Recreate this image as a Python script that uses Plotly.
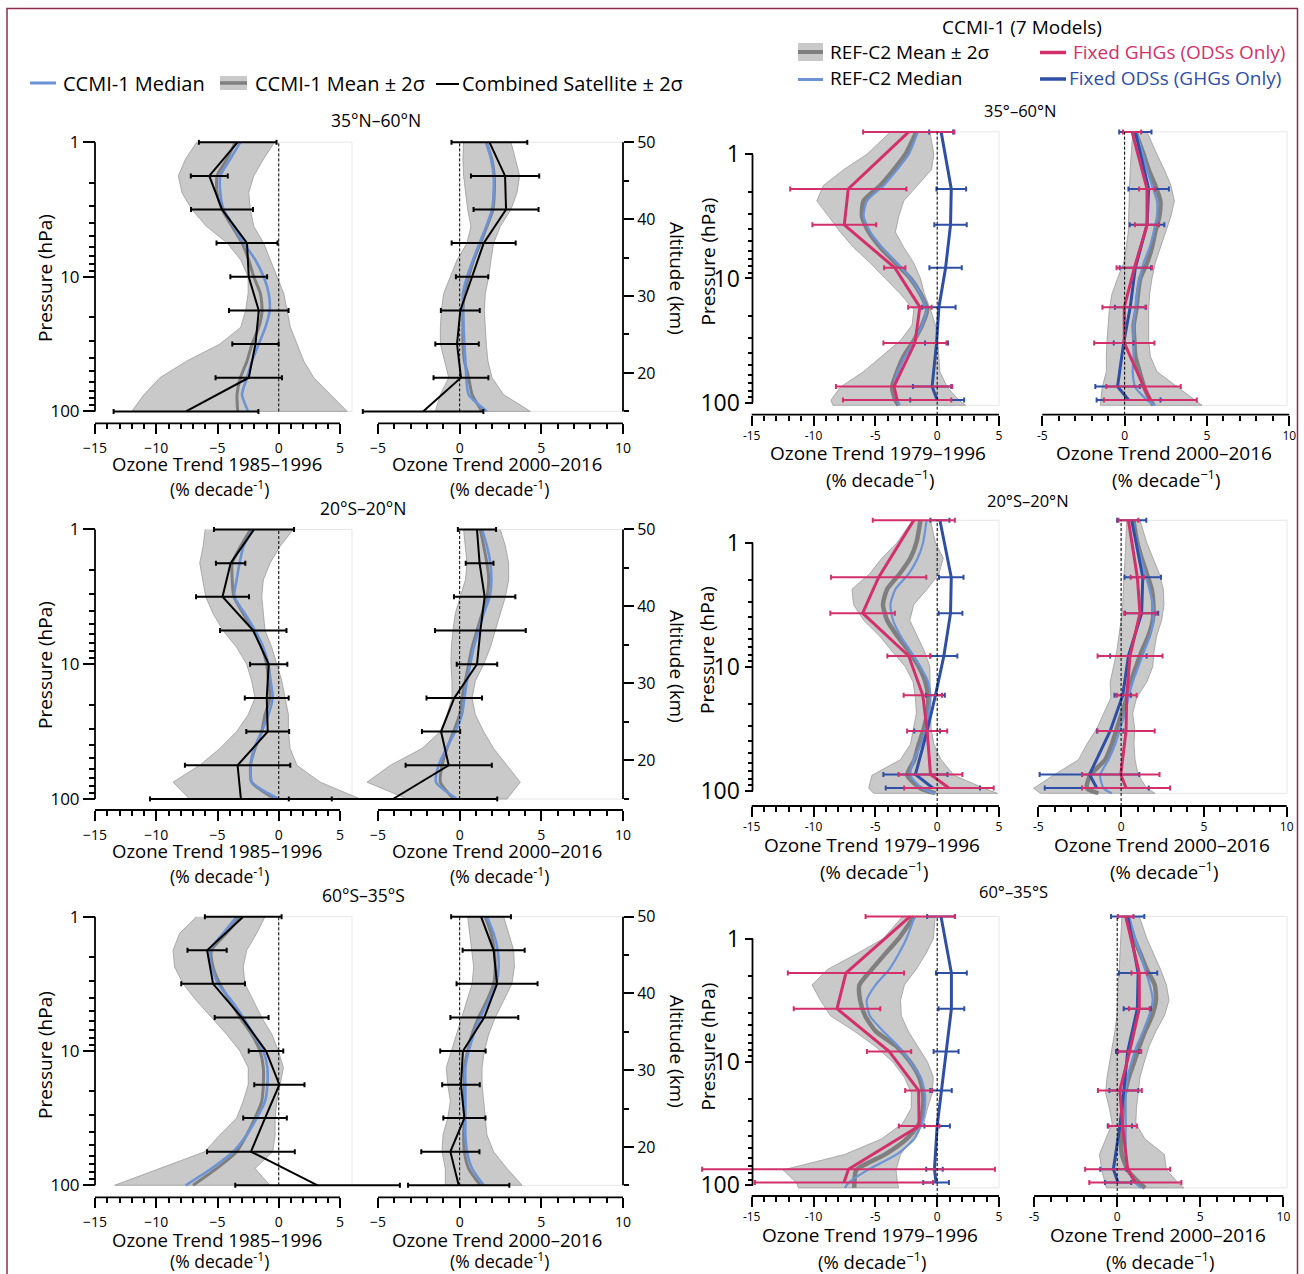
import math
import plotly.graph_objects as go

W, H = 1304, 1274
FONT = "Open Sans"

# ---------------- pressure levels (hPa) ----------------
SAT_P = [1.0, 1.78, 3.16, 5.62, 10.0, 17.8, 31.6, 56.2, 100.0]
MOD_P = [1.0, 1.33, 1.78, 2.37, 3.16, 4.22, 5.62, 7.5, 10.0, 13.3, 17.8, 23.7, 31.6, 42.2, 56.2, 75.0, 100.0]
CCMI_P = [0.66, 1.9, 3.7, 8.2, 17.0, 33.0, 74.0, 95.0]
CCMI_FINE_P = [0.66, 1.0, 1.33, 1.78, 2.37, 3.16, 4.22, 5.62, 7.5, 10.0, 13.3, 17.8, 23.7, 31.6, 42.2, 56.2, 75.0, 95.5, 105.0]

# ---------------- tick labels / categories ----------------
EARLY_TICKS = [-15, -10, -5, 0, 5]
LATE_TICKS = [-5, 0, 5, 10]
LEFT_EARLY_LABELS = ['−15', '−10', '−5', '0', '5']
LEFT_LATE_LABELS = ['−5', '0', '5', '10']
RIGHT_EARLY_LABELS = ['-15', '-10', '-5', '0', '5']
RIGHT_LATE_LABELS = ['-5', '0', '5', '10']
EARLY_MINOR = list(range(-15, 6))
LATE_MINOR = list(range(-5, 11))
P_TICKS = [1, 10, 100]
P_LABELS = ['1', '10', '100']
P_MINOR = [2, 3, 4, 5, 6, 7, 8, 9, 20, 30, 40, 50, 60, 70, 80, 90]
ALT_TICKS = [20, 30, 40, 50]
ALT_LABELS = ['20', '30', '40', '50']
ALT_MINOR = [15, 25, 35, 45]
REGIONS_LEFT = ['35°N–60°N', '20°S–20°N', '60°S–35°S']
REGIONS_RIGHT = ['35°–60°N', '20°S–20°N', '60°–35°S']

# ================= Left: Combined satellite vs CCMI-1 =================
# 35N-60N, 1985-1996
nh_8596_sat = [-3.35, -5.67, -4.63, -2.59, -2.45, -1.63, -1.9, -2.45, -7.57]
nh_8596_err = [3.17, 1.51, 2.53, 2.49, 1.50, 2.43, 1.89, 2.71, 5.91]
nh_8596_lo = [-6.7, -7.6, -8.2, -7.9, -7.1, -5.9, -4.2, -3.1, -2.5, -2.5, -2.7, -3.1, -4.8, -7.5, -9.7, -11.0, -12.0]
nh_8596_hi = [-0.35, -1.23, -2.04, -2.45, -2.32, -2.04, -1.23, -0.68, -0.14, 0.41, 0.68, 0.95, 1.5, 2.04, 2.86, 4.22, 5.59]
nh_8596_mean = [-3.54, -4.22, -5.04, -5.04, -4.63, -3.81, -3.0, -2.45, -2.04, -1.5, -1.36, -1.63, -2.18, -2.59, -3.13, -3.41, -3.35]
nh_8596_median = [-3.13, -3.95, -4.77, -4.77, -4.5, -3.68, -2.86, -1.91, -1.23, -0.82, -0.74, -1.09, -1.63, -2.18, -2.59, -3.0, -2.5]
# 35N-60N, 2000-2016
nh_0016_sat = [1.82, 2.78, 2.84, 1.47, 0.76, 0.04, -0.16, 0.08, -2.24]
nh_0016_err = [2.32, 2.09, 1.99, 1.96, 0.99, 1.19, 1.33, 1.68, 3.69]
nh_0016_lo = [0.24, 0.2, 0.24, 0.35, 0.49, 0.69, 0.45, -0.16, -0.57, -0.98, -1.12, -1.18, -1.18, -0.94, -0.67, -1.18, -1.49]
nh_0016_hi = [3.14, 3.41, 3.67, 3.51, 3.14, 2.49, 2.08, 1.92, 1.78, 1.57, 1.51, 1.57, 1.63, 1.73, 1.98, 2.69, 4.33]
nh_0016_mean = [1.63, 1.96, 2.12, 2.12, 2.04, 1.67, 1.27, 0.86, 0.55, 0.29, 0.2, 0.2, 0.2, 0.29, 0.55, 0.76, 1.37]
nh_0016_median = [1.63, 1.92, 2.08, 2.08, 1.98, 1.63, 1.22, 0.82, 0.45, 0.2, 0.2, 0.24, 0.29, 0.35, 0.41, 0.55, 1.67]
# 20S-20N, 1985-1996
tr_8596_sat = [-2.02, -3.93, -4.59, -2.08, -0.82, -0.98, -0.9, -3.36, -3.09]
tr_8596_err = [3.27, 1.2, 2.16, 2.71, 1.52, 1.79, 1.75, 4.3, 7.42]
tr_8596_lo = [-6.01, -6.17, -6.45, -6.23, -5.96, -5.36, -4.54, -3.44, -2.62, -2.21, -1.94, -2.49, -3.44, -4.81, -6.45, -8.63, -7.27]
tr_8596_hi = [1.2, 0.11, -0.71, -1.26, -1.39, -1.26, -1.12, -0.57, -0.16, 0.25, 0.52, 0.79, 0.79, 0.93, 1.48, 3.39, 6.67]
tr_8596_mean = [-2.3, -3.11, -3.8, -3.8, -3.66, -2.9, -2.08, -1.39, -0.98, -0.85, -0.71, -1.12, -1.39, -1.94, -2.3, -2.21, -0.3]
tr_8596_median = [-2.08, -2.87, -3.2, -3.44, -3.63, -2.76, -1.94, -1.26, -0.85, -0.66, -0.49, -0.85, -1.39, -2.02, -2.3, -2.21, 0.0]
# 20S-20N, 2000-2016
tr_0016_sat = [1.06, 1.22, 1.53, 1.27, 1.06, -0.33, -1.14, -0.67, -4.08]
tr_0016_err = [1.17, 0.85, 1.88, 2.78, 1.24, 1.7, 1.17, 2.64, 6.38]
tr_0016_lo = [0.24, 0.35, 0.45, 0.35, 0.04, -0.27, -0.41, -0.51, -0.53, -0.47, -0.47, -0.78, -1.18, -2.31, -4.24, -5.67, -3.2]
tr_0016_hi = [2.49, 2.8, 3.0, 3.0, 2.8, 2.49, 2.18, 1.88, 1.47, 0.96, 0.76, 0.96, 1.47, 2.08, 2.9, 3.71, 2.9]
tr_0016_mean = [1.27, 1.47, 1.67, 1.78, 1.67, 1.37, 1.06, 0.76, 0.55, 0.35, 0.14, 0.0, -0.37, -0.78, -1.08, -1.18, -0.37]
tr_0016_median = [1.37, 1.67, 1.88, 1.94, 1.84, 1.47, 1.16, 0.86, 0.65, 0.45, 0.29, 0.14, -0.27, -0.82, -1.29, -1.45, -0.16]
# 60S-35S, 1985-1996
sh_8596_sat = [-2.9, -5.85, -5.36, -3.03, -1.04, 0.05, -1.12, -2.27, 3.17]
sh_8596_err = [3.13, 1.6, 2.6, 2.2, 1.41, 2.05, 1.78, 3.58, 6.72]
sh_8596_lo = [-6.72, -8.09, -8.63, -8.5, -7.81, -6.72, -5.49, -4.26, -3.17, -2.49, -2.49, -2.9, -3.44, -4.81, -6.04, -9.73, -13.4]
sh_8596_hi = [-1.12, -1.8, -2.62, -2.9, -2.76, -2.08, -1.39, -0.57, -0.03, 0.38, 0.11, -0.16, -0.3, -0.3, -0.49, -1.94, -0.71]
sh_8596_mean = [-3.16, -4.26, -5.49, -5.36, -4.81, -3.99, -3.17, -2.21, -1.53, -1.26, -1.26, -1.39, -1.94, -2.62, -3.44, -5.08, -7.0]
sh_8596_median = [-3.44, -4.54, -5.63, -5.49, -4.95, -3.85, -2.9, -2.08, -1.26, -0.93, -0.93, -1.12, -1.8, -2.62, -3.72, -5.49, -7.6]
# 60S-35S, 2000-2016
sh_0016_sat = [1.31, 2.08, 2.29, 1.51, 0.2, 0.08, 0.29, -0.57, -0.06]
sh_0016_err = [1.83, 1.9, 2.48, 2.08, 1.39, 1.15, 1.29, 1.78, 3.1]
sh_0016_lo = [0.49, 0.61, 0.76, 0.86, 0.76, 0.45, 0.14, -0.16, -0.47, -0.82, -0.73, -0.57, -0.73, -1.02, -1.08, -0.88, -0.88]
sh_0016_hi = [2.69, 3.0, 3.31, 3.35, 3.2, 2.69, 2.18, 1.78, 1.51, 1.37, 1.37, 1.51, 1.57, 1.67, 2.08, 2.9, 3.82]
sh_0016_mean = [1.57, 1.92, 2.12, 2.18, 2.08, 1.67, 1.16, 0.76, 0.49, 0.29, 0.29, 0.29, 0.29, 0.24, 0.29, 0.55, 1.27]
sh_0016_median = [1.67, 2.08, 2.33, 2.39, 2.24, 1.78, 1.27, 0.86, 0.55, 0.35, 0.35, 0.35, 0.35, 0.35, 0.45, 0.76, 1.47]

# ================= Right: CCMI-1 (7 models) sensitivity runs =================
# 35-60N, 1979-1996
c_nh_7996_ghg = [-2.3, -7.19, -7.51, -3.43, -1.4, -1.8, -3.49, -3.24]
c_nh_7996_ghg_err = [3.69, 4.7, 2.58, 0.86, 0.95, 2.55, 4.7, 4.38]
c_nh_7996_ods = [0.32, 1.14, 1.08, 0.68, 0.14, -0.05, -0.41, 0.0]
c_nh_7996_ods_err = [0.97, 1.2, 1.31, 1.31, 1.35, 0.93, 1.55, 2.18]
c_nh_7996_lo = [-3.78, -5.68, -7.57, -9.19, -9.73, -8.78, -7.84, -6.76, -5.41, -4.19, -2.97, -1.89, -2.03, -2.97, -4.46, -5.95, -7.84, -8.59, -8.43]
c_nh_7996_hi = [-0.59, -0.27, -0.46, -1.62, -2.7, -3.11, -3.38, -2.7, -1.89, -1.35, -1.03, -0.54, -0.14, 0.05, 0.14, 0.22, 0.81, 1.76, 2.3]
c_nh_7996_mean = [-1.68, -2.57, -3.51, -4.59, -5.95, -6.08, -5.54, -4.59, -3.38, -2.16, -1.35, -0.81, -1.22, -1.89, -2.7, -3.24, -3.65, -3.38, -3.11]
c_nh_7996_median = [-1.57, -2.3, -3.24, -4.32, -5.68, -5.95, -5.41, -4.46, -3.24, -2.16, -1.35, -0.86, -1.22, -1.84, -2.57, -3.19, -3.51, -3.24, -3.03]
# 35-60N, 2000-2016
c_nh_0016_ghg = [0.45, 1.36, 1.36, 0.59, -0.02, -0.02, 1.15, 1.56]
c_nh_0016_ghg_err = [0.55, 0.48, 0.73, 1.08, 1.33, 1.83, 2.26, 2.82]
c_nh_0016_ods = [0.65, 1.46, 1.36, 0.65, 0.34, -0.06, -0.43, 0.24]
c_nh_0016_ods_err = [0.98, 1.23, 1.05, 0.95, 0.93, 0.6, 1.35, 1.94]
c_nh_0016_lo = [0.49, 0.38, 0.34, 0.3, 0.28, 0.26, 0.22, 0.1, -0.06, -0.43, -0.77, -0.93, -1.01, -1.07, -1.11, -1.11, -1.36, -1.42, -1.48]
c_nh_0016_hi = [1.36, 1.96, 2.41, 2.81, 3.02, 2.81, 2.47, 2.17, 1.86, 1.66, 1.52, 1.46, 1.46, 1.46, 1.56, 1.96, 3.18, 4.29, 4.7]
c_nh_0016_mean = [0.65, 1.15, 1.46, 1.86, 2.17, 2.11, 1.86, 1.66, 1.36, 0.95, 0.81, 0.71, 0.55, 0.59, 0.65, 0.91, 1.19, 1.56, 1.76]
c_nh_0016_median = [0.71, 1.11, 1.36, 1.66, 1.96, 1.96, 1.76, 1.52, 1.15, 0.91, 0.75, 0.65, 0.55, 0.55, 0.55, 0.49, 0.65, 1.36, 1.86]
# 20S-20N, 1979-1996
c_tr_7996_ghg = [-1.89, -4.73, -6.03, -2.3, -1.16, -0.81, -0.54, 0.95]
c_tr_7996_ghg_err = [3.32, 3.85, 2.61, 1.73, 1.55, 1.62, 2.58, 3.62]
c_tr_7996_ods = [0.22, 1.14, 1.08, 0.54, -0.14, -0.81, -1.76, -0.35]
c_tr_7996_ods_err = [0.77, 0.99, 0.96, 1.09, 0.76, 1.04, 2.59, 3.81]
c_tr_7996_lo = [-2.0, -3.24, -4.46, -5.46, -6.89, -6.76, -5.95, -4.68, -3.65, -2.57, -1.95, -1.76, -1.68, -1.89, -2.16, -2.97, -5.27, -5.54, -5.14]
c_tr_7996_hi = [-0.54, -0.14, 0.49, 0.14, -0.81, -1.89, -2.22, -1.62, -1.03, -0.59, -0.54, -0.54, -0.54, -0.49, -0.27, 0.32, 1.35, 3.78, 4.86]
c_tr_7996_mean = [-1.35, -1.68, -2.16, -3.03, -4.05, -4.38, -4.05, -3.24, -2.3, -1.49, -0.95, -0.73, -0.81, -1.08, -1.49, -1.84, -2.43, -1.35, -0.14]
c_tr_7996_median = [-0.86, -1.14, -1.57, -2.3, -3.38, -3.78, -3.57, -2.97, -2.16, -1.35, -0.73, -0.54, -0.68, -0.95, -1.3, -1.89, -2.16, -1.22, -0.14]
# 20S-20N, 2000-2016
c_tr_0016_ghg = [0.44, 0.98, 1.14, 0.54, 0.34, 0.3, -0.02, 0.3]
c_tr_0016_ghg_err = [0.6, 0.4, 0.95, 1.96, 0.6, 1.73, 2.34, 2.66]
c_tr_0016_ods = [0.64, 1.31, 1.24, 0.44, 0.1, -0.66, -1.91, -1.47]
c_tr_0016_ods_err = [0.88, 1.1, 1.0, 1.1, 0.5, 0.8, 3.01, 3.14]
c_tr_0016_lo = [0.34, 0.3, 0.24, 0.18, 0.14, 0.1, 0.0, -0.12, -0.26, -0.46, -0.66, -0.62, -1.02, -1.47, -2.07, -2.57, -4.08, -5.28, -4.88]
c_tr_0016_hi = [1.14, 1.55, 1.95, 2.31, 2.55, 2.59, 2.45, 2.15, 1.99, 1.91, 1.55, 0.94, 0.7, 0.82, 0.78, 0.84, 1.04, 1.55, 2.05]
c_tr_0016_mean = [0.74, 0.98, 1.24, 1.55, 1.85, 1.95, 1.91, 1.65, 1.24, 0.9, 0.58, 0.34, 0.04, -0.26, -0.56, -0.96, -1.87, -2.07, -1.37]
c_tr_0016_median = [0.7, 0.94, 1.18, 1.45, 1.71, 1.91, 1.95, 1.75, 1.39, 1.04, 0.7, 0.44, 0.24, -0.06, -0.36, -0.76, -1.27, -1.06, -0.56]
# 60-35S, 1979-1996
c_sh_7996_ghg = [-2.18, -7.38, -8.1, -3.89, -1.5, -1.46, -7.17, -7.54]
c_sh_7996_ghg_err = [3.61, 4.7, 3.5, 1.79, 1.09, 1.64, 11.84, 7.2]
c_sh_7996_ods = [0.31, 1.15, 1.15, 0.72, 0.31, 0.0, -0.22, -0.09]
c_sh_7996_ods_err = [1.12, 1.25, 1.04, 1.01, 0.87, 1.03, 0.67, 1.04]
c_sh_7996_lo = [-2.8, -4.36, -6.54, -8.88, -10.12, -9.44, -8.63, -6.7, -4.98, -3.58, -2.65, -2.09, -2.09, -2.8, -4.52, -7.48, -12.46, -11.37, -11.21]
c_sh_7996_hi = [-0.16, -0.31, -0.93, -1.71, -2.65, -2.96, -2.9, -2.34, -1.56, -0.78, -0.31, -0.4, -0.78, -1.09, -2.02, -2.96, -3.33, -3.21, -3.12]
c_sh_7996_mean = [-1.87, -3.12, -4.21, -5.3, -6.29, -6.23, -5.83, -4.98, -3.27, -2.18, -1.46, -1.15, -1.15, -1.46, -2.49, -4.21, -6.54, -6.7, -6.7]
c_sh_7996_median = [-1.81, -2.49, -3.12, -3.89, -4.98, -5.7, -5.45, -4.36, -3.12, -2.18, -1.34, -1.0, -1.0, -1.25, -1.87, -3.27, -5.61, -7.17, -7.48]
# 60-35S, 2000-2016
c_sh_0016_ghg = [0.51, 1.33, 1.33, 0.75, 0.16, 0.33, 0.63, 1.09]
c_sh_0016_ghg_err = [0.47, 0.47, 0.62, 0.7, 1.32, 0.85, 2.56, 2.77]
c_sh_0016_ods = [0.63, 1.26, 1.21, 0.63, 0.4, 0.16, -0.23, 0.05]
c_sh_0016_ods_err = [1.0, 1.15, 0.82, 0.7, 0.87, 0.73, 0.79, 0.79]
c_sh_0016_lo = [0.28, 0.23, 0.19, 0.12, 0.05, 0.0, -0.02, -0.14, -0.3, -0.47, -0.61, -0.7, -0.47, -0.3, -0.7, -1.07, -0.93, -0.7, -0.65]
c_sh_0016_hi = [1.33, 1.79, 2.19, 2.61, 2.96, 3.12, 2.84, 2.33, 1.91, 1.63, 1.37, 1.26, 1.16, 1.12, 1.68, 2.84, 2.96, 3.66, 4.01]
c_sh_0016_mean = [0.63, 1.02, 1.4, 1.79, 2.26, 2.33, 2.1, 1.68, 1.33, 1.02, 0.7, 0.47, 0.35, 0.28, 0.23, 0.28, 0.63, 1.33, 1.68]
c_sh_0016_median = [0.7, 1.09, 1.4, 1.68, 1.96, 2.14, 1.91, 1.56, 1.16, 0.86, 0.63, 0.51, 0.51, 0.51, 0.51, 0.51, 0.63, 1.09, 1.44]

LEFT = [
    [dict(sat=nh_8596_sat, err=nh_8596_err, lo=nh_8596_lo, hi=nh_8596_hi, mean=nh_8596_mean, med=nh_8596_median),
     dict(sat=nh_0016_sat, err=nh_0016_err, lo=nh_0016_lo, hi=nh_0016_hi, mean=nh_0016_mean, med=nh_0016_median)],
    [dict(sat=tr_8596_sat, err=tr_8596_err, lo=tr_8596_lo, hi=tr_8596_hi, mean=tr_8596_mean, med=tr_8596_median),
     dict(sat=tr_0016_sat, err=tr_0016_err, lo=tr_0016_lo, hi=tr_0016_hi, mean=tr_0016_mean, med=tr_0016_median)],
    [dict(sat=sh_8596_sat, err=sh_8596_err, lo=sh_8596_lo, hi=sh_8596_hi, mean=sh_8596_mean, med=sh_8596_median),
     dict(sat=sh_0016_sat, err=sh_0016_err, lo=sh_0016_lo, hi=sh_0016_hi, mean=sh_0016_mean, med=sh_0016_median)],
]
RIGHT = [
    [dict(ghg=c_nh_7996_ghg, ghg_err=c_nh_7996_ghg_err, ods=c_nh_7996_ods, ods_err=c_nh_7996_ods_err, lo=c_nh_7996_lo, hi=c_nh_7996_hi, mean=c_nh_7996_mean, med=c_nh_7996_median),
     dict(ghg=c_nh_0016_ghg, ghg_err=c_nh_0016_ghg_err, ods=c_nh_0016_ods, ods_err=c_nh_0016_ods_err, lo=c_nh_0016_lo, hi=c_nh_0016_hi, mean=c_nh_0016_mean, med=c_nh_0016_median)],
    [dict(ghg=c_tr_7996_ghg, ghg_err=c_tr_7996_ghg_err, ods=c_tr_7996_ods, ods_err=c_tr_7996_ods_err, lo=c_tr_7996_lo, hi=c_tr_7996_hi, mean=c_tr_7996_mean, med=c_tr_7996_median),
     dict(ghg=c_tr_0016_ghg, ghg_err=c_tr_0016_ghg_err, ods=c_tr_0016_ods, ods_err=c_tr_0016_ods_err, lo=c_tr_0016_lo, hi=c_tr_0016_hi, mean=c_tr_0016_mean, med=c_tr_0016_median)],
    [dict(ghg=c_sh_7996_ghg, ghg_err=c_sh_7996_ghg_err, ods=c_sh_7996_ods, ods_err=c_sh_7996_ods_err, lo=c_sh_7996_lo, hi=c_sh_7996_hi, mean=c_sh_7996_mean, med=c_sh_7996_median),
     dict(ghg=c_sh_0016_ghg, ghg_err=c_sh_0016_ghg_err, ods=c_sh_0016_ods, ods_err=c_sh_0016_ods_err, lo=c_sh_0016_lo, hi=c_sh_0016_hi, mean=c_sh_0016_mean, med=c_sh_0016_median)],
]

# ---------------- colours ----------------
BAND_FILL = '#c9c9c9'
BAND_EDGE = '#9a9a9a'
MEAN_C = '#7f7f7f'
MED_C = '#6c93d6'
RED = '#d3306b'
BLUE = '#2f4fa6'
FRAME = '#8e2c4e'
FAINT = '#e6e6e6'

# ---------------- geometry (pixels) ----------------
L_ROWS = [
    dict(p1=142.2, dec=134.6, xax=423.3, ty=463, ty2=488, ply=278, alty=279, reg=(376, 120.5)),
    dict(p1=529.4, dec=134.8, xax=810.0, ty=850, ty2=875, ply=665, alty=667, reg=(363.5, 508)),
    dict(p1=916.7, dec=134.3, xax=1197.3, ty=1239, ty2=1260, ply=1055, alty=1052, reg=(363, 895)),
]
L_XMAP_A = (-15, 95.0, 5, 340.0)
L_XMAP_B = (-5, 378.0, 10, 623.0)
R_ROWS = [
    dict(p1=154.3, dec=124.2, xax=414.7, xmapB=(-5, 1042.3, 10, 1289.3), tA=877.6, tB=1164, ty=453, ty2=479, ply=261.5, reg=(1020, 110.7)),
    dict(p1=542.7, dec=124.0, xax=806.0, xmapB=(-5, 1038.3, 10, 1286.7), tA=872, tB=1162, ty=845, ty2=870, ply=650, reg=(1028, 500)),
    dict(p1=938.7, dec=123.3, xax=1196.0, xmapB=(-5, 1034.1, 10, 1283.4), tA=870, tB=1158, ty=1235, ty2=1260, ply=1046.5, reg=(1014, 891.7)),
]
R_XMAP_A = (-15, 751.7, 5, 999.0)


def X(v, m):
    return m[1] + (v - m[0]) * (m[3] - m[1]) / (m[2] - m[0])


def Y(p, row):
    return row['p1'] + math.log10(p) * row['dec']


def PX(px):
    return px / W


def PY(py):
    return 1 - py / H


layout = dict(width=W, height=H, autosize=False,
              margin=dict(l=0, r=0, t=0, b=0, pad=0, autoexpand=False), paper_bgcolor='white',
              plot_bgcolor='rgba(0,0,0,0)', showlegend=False, hovermode=False,
              font=dict(family=FONT, color='black'))
shapes, annos = [], []
fig = go.Figure()
cnt = {'x': 0, 'y': 0}


def new_axis(kind):
    cnt[kind] += 1
    n = cnt[kind]
    sfx = '' if n == 1 else str(n)
    return kind + 'axis' + sfx, kind + sfx


def xcfg(vals, labels, minor, size, standoff):
    return dict(ticks='outside', tickmode='array', tickvals=vals, ticktext=labels, ticklen=10, tickwidth=1.5,
                tickcolor='black', tickfont=dict(size=size, color='black', family=FONT), ticklabelstandoff=standoff,
                automargin=False,
                minor=dict(ticks='outside', tickmode='array', tickvals=minor, ticklen=5, tickwidth=1.5, tickcolor='black'))


def pcfg(size, ticklen, minorlen, standoff=0):
    return dict(ticks='outside', tickmode='array', tickvals=P_TICKS, ticktext=P_LABELS, ticklen=ticklen, tickwidth=1.5,
                tickcolor='black', tickfont=dict(size=size, color='black', family=FONT), side='left',
                ticklabelstandoff=standoff, automargin=False,
                minor=dict(ticks='outside', tickmode='array', tickvals=P_MINOR, ticklen=minorlen, tickwidth=1.5, tickcolor='black'))


def add_axes(xmap, xr, row, prange, xc, yc, ypos_px):
    xk, xid = new_axis('x')
    yk, yid = new_axis('y')
    layout[xk] = dict(domain=[PX(X(xr[0], xmap)), PX(X(xr[1], xmap))], range=list(xr), anchor='free',
                      position=PY(row['xax']), showgrid=False, zeroline=False, showline=False, fixedrange=True, **xc)
    ycommon = dict(domain=[PY(Y(prange[1], row)), PY(Y(prange[0], row))], type='log',
                   range=[math.log10(prange[1]), math.log10(prange[0])], anchor='free',
                   position=PX(ypos_px), showgrid=False, zeroline=False, showline=False, fixedrange=True)
    ycommon.update(yc)
    layout[yk] = ycommon
    return xid, yid


def hline(x0, x1, y, w=1.8, color='black'):
    shapes.append(dict(type='line', xref='paper', yref='paper', x0=PX(x0), x1=PX(x1), y0=PY(y), y1=PY(y),
                       line=dict(color=color, width=w)))


def vline(x, y0, y1, w=1.8, color='black'):
    shapes.append(dict(type='line', xref='paper', yref='paper', x0=PX(x), x1=PX(x), y0=PY(y0), y1=PY(y1),
                       line=dict(color=color, width=w)))


def faint_box(x0, x1, y0, y1):
    shapes.append(dict(type='rect', xref='paper', yref='paper', x0=PX(x0), x1=PX(x1), y0=PY(y1), y1=PY(y0),
                       line=dict(color=FAINT, width=1), layer='below'))


def zero_dash(xid, ytop, ybot):
    shapes.append(dict(type='line', xref=xid, yref='paper', x0=0, x1=0, y0=PY(ybot), y1=PY(ytop),
                       line=dict(color='black', width=1, dash='3px,2px')))


def text(s, x, y, size, color='black', xanchor='center', angle=0):
    annos.append(dict(text=s, x=PX(x), y=PY(y), xref='paper', yref='paper', showarrow=False,
                      xanchor=xanchor, yanchor='middle', textangle=angle,
                      font=dict(size=size, color=color, family=FONT)))


def band(xid, yid, lo, hi, P):
    fig.add_trace(go.Scatter(x=lo + hi[::-1], y=P + P[::-1], fill='toself', fillcolor=BAND_FILL, mode='lines',
                             line=dict(color=BAND_EDGE, width=0.8), xaxis=xid, yaxis=yid, hoverinfo='skip'))


def line(xid, yid, xs, P, color, width, err=None, spline=False):
    kw = {}
    if err is not None:
        kw['error_x'] = dict(type='data', array=err, symmetric=True, color=color, thickness=2, width=2.5)
    fig.add_trace(go.Scatter(x=xs, y=P, mode='lines',
                             line=dict(color=color, width=width, shape='spline' if spline else 'linear', smoothing=0.6),
                             xaxis=xid, yaxis=yid, cliponaxis=False, hoverinfo='skip', **kw))


# ---------------- left block ----------------
L_PRANGE = (0.955, 104.7)
for r, row in enumerate(L_ROWS):
    dA, dB = LEFT[r]
    # panel A (1985-1996)
    xa, ya = add_axes(L_XMAP_A, (-16, 10.5), row, L_PRANGE,
                      xcfg(EARLY_TICKS, LEFT_EARLY_LABELS, EARLY_MINOR, 14, 2), pcfg(17, 12, 6), 95)
    faint_box(X(0, L_XMAP_A), 352, Y(1, row), Y(100, row))
    band(xa, ya, dA['lo'], dA['hi'], MOD_P)
    line(xa, ya, dA['mean'], MOD_P, MEAN_C, 3, spline=True)
    line(xa, ya, dA['med'], MOD_P, MED_C, 2.6, spline=True)
    line(xa, ya, dA['sat'], SAT_P, 'black', 2, err=dA['err'])
    zero_dash(xa, Y(1, row), Y(100, row))
    hline(X(-15, L_XMAP_A), X(5, L_XMAP_A), row['xax'])
    vline(95, Y(1, row), Y(100, row))
    # panel B (2000-2016)
    xb, yb = add_axes(L_XMAP_B, (-11, 11), row, L_PRANGE,
                      xcfg(LATE_TICKS, LEFT_LATE_LABELS, LATE_MINOR, 14, 2), dict(visible=False), 400)
    faint_box(X(0, L_XMAP_B), 623, Y(1, row), Y(100, row))
    band(xb, yb, dB['lo'], dB['hi'], MOD_P)
    line(xb, yb, dB['mean'], MOD_P, MEAN_C, 3, spline=True)
    line(xb, yb, dB['med'], MOD_P, MED_C, 2.6, spline=True)
    line(xb, yb, dB['sat'], SAT_P, 'black', 2, err=dB['err'])
    zero_dash(xb, Y(1, row), Y(100, row))
    hline(X(-5, L_XMAP_B), X(10, L_XMAP_B), row['xax'])
    # altitude axis
    yk, yid = new_axis('y')
    layout[yk] = dict(domain=[PY(Y(100, row)), PY(Y(1, row))], range=[15, 50], anchor='free', position=PX(623),
                      side='right', showgrid=False, zeroline=False, showline=False, fixedrange=True, automargin=False,
                      ticks='outside', tickmode='array', tickvals=ALT_TICKS, ticktext=ALT_LABELS, ticklen=10,
                      tickwidth=1.5, tickcolor='black', tickfont=dict(size=16, color='black', family=FONT),
                      minor=dict(ticks='outside', tickmode='array', tickvals=ALT_MINOR, ticklen=5, tickwidth=1.5,
                                 tickcolor='black'))
    fig.add_trace(go.Scatter(x=[0], y=[30], mode='markers', marker=dict(opacity=0), xaxis=xb, yaxis=yid,
                             hoverinfo='skip'))
    vline(623, Y(1, row), Y(100, row))
    # texts
    text('Ozone Trend 1985–1996', 217, row['ty'], 18.5)
    text('(% decade<sup>-1</sup>)', 219, row['ty2'], 17.5)
    text('Ozone Trend 2000–2016', 497, row['ty'], 18.5)
    text('(% decade<sup>-1</sup>)', 499, row['ty2'], 17.5)
    text('Pressure (hPa)', 45, row['ply'], 19, angle=-90)
    text('Altitude (km)', 677, row['alty'], 19, angle=90)
    text(REGIONS_LEFT[r], row['reg'][0], row['reg'][1], 17.5)

# ---------------- right block ----------------
R_PRANGE = (0.6, 108)
for r, row in enumerate(R_ROWS):
    dA, dB = RIGHT[r]
    top = Y(CCMI_P[0], row)
    # panel A (1979-1996)
    xa, ya = add_axes(R_XMAP_A, (-19.5, 6), row, R_PRANGE,
                      xcfg(EARLY_TICKS, RIGHT_EARLY_LABELS, EARLY_MINOR, 12, 0), pcfg(23, 8, 5, 0), 752.5)
    faint_box(X(0, R_XMAP_A), 999, top, Y(105, row))
    band(xa, ya, dA['lo'], dA['hi'], CCMI_FINE_P)
    line(xa, ya, dA['mean'], CCMI_FINE_P, MEAN_C, 4.5, spline=True)
    line(xa, ya, dA['med'], CCMI_FINE_P, MED_C, 2.2, spline=True)
    zero_dash(xa, top, row['xax'])
    line(xa, ya, dA['ods'], CCMI_P, BLUE, 3, err=dA['ods_err'])
    line(xa, ya, dA['ghg'], CCMI_P, RED, 3, err=dA['ghg_err'])
    hline(X(-15, R_XMAP_A), X(5, R_XMAP_A), row['xax'])
    vline(752.5, Y(1, row), Y(100, row))
    # panel B (2000-2016)
    mB = row['xmapB']
    xb, yb = add_axes(mB, (-6.5, 10.5), row, R_PRANGE,
                      xcfg(LATE_TICKS, RIGHT_LATE_LABELS, LATE_MINOR, 12, 0), dict(visible=False), 1100)
    faint_box(X(0, mB), 1287, top, Y(105, row))
    band(xb, yb, dB['lo'], dB['hi'], CCMI_FINE_P)
    line(xb, yb, dB['mean'], CCMI_FINE_P, MEAN_C, 4.5, spline=True)
    line(xb, yb, dB['med'], CCMI_FINE_P, MED_C, 2.2, spline=True)
    zero_dash(xb, top, row['xax'])
    line(xb, yb, dB['ods'], CCMI_P, BLUE, 3, err=dB['ods_err'])
    line(xb, yb, dB['ghg'], CCMI_P, RED, 3, err=dB['ghg_err'])
    hline(X(-5, mB), X(10, mB), row['xax'])
    # texts
    text('Ozone Trend 1979–1996', row['tA'], row['ty'], 19)
    text('(% decade<sup>−1</sup>)', row['tA'] + 2, row['ty2'], 18.5)
    text('Ozone Trend 2000–2016', row['tB'], row['ty'], 19)
    text('(% decade<sup>−1</sup>)', row['tB'] + 2, row['ty2'], 18.5)
    text('Pressure (hPa)', 707, row['ply'], 19, angle=-90)
    text(REGIONS_RIGHT[r], row['reg'][0], row['reg'][1], 16.5)

# ---------------- legends ----------------
# left legend
hline(30, 56, 83, w=3, color=MED_C)
text('CCMI-1 Median', 61, 83, 20, xanchor='left')
shapes.append(dict(type='rect', xref='paper', yref='paper', x0=PX(220), x1=PX(247), y0=PY(90), y1=PY(76),
                   fillcolor=BAND_FILL, line=dict(width=0)))
hline(220, 247, 83, w=3.5, color=MEAN_C)
text('CCMI-1 Mean ± 2σ', 253, 83, 20, xanchor='left')
hline(436, 459, 84, w=2, color='black')
text('Combined Satellite ± 2σ', 460, 83, 20, xanchor='left')
# right legend
text('CCMI-1 (7 Models)', 1022, 27, 19)
shapes.append(dict(type='rect', xref='paper', yref='paper', x0=PX(798), x1=PX(823), y0=PY(61), y1=PY(43),
                   fillcolor=BAND_FILL, line=dict(width=0)))
hline(798, 823, 52, w=4, color=MEAN_C)
text('REF-C2 Mean ± 2σ', 828, 51.5, 19, xanchor='left')
hline(798, 823, 79.5, w=3, color=MED_C)
text('REF-C2 Median', 828, 78, 19, xanchor='left')
hline(1040, 1066, 52.5, w=3.5, color=RED)
text('Fixed GHGs (ODSs Only)', 1071, 51.5, 19, color=RED, xanchor='left')
hline(1040, 1066, 79, w=3.5, color=BLUE)
text('Fixed ODSs (GHGs Only)', 1067, 78.5, 19, color=BLUE, xanchor='left')

# frame
shapes.append(dict(type='rect', xref='paper', yref='paper', x0=PX(7), x1=PX(1297.5), y0=PY(1290), y1=PY(8.5),
                   line=dict(color=FRAME, width=1.5)))

layout['shapes'] = shapes
layout['annotations'] = annos
fig.update_layout(**layout)
fig.write_html("out.html", config={'displayModeBar': False},
               post_script="document.body.style.margin='0';document.body.style.overflow='hidden';")
